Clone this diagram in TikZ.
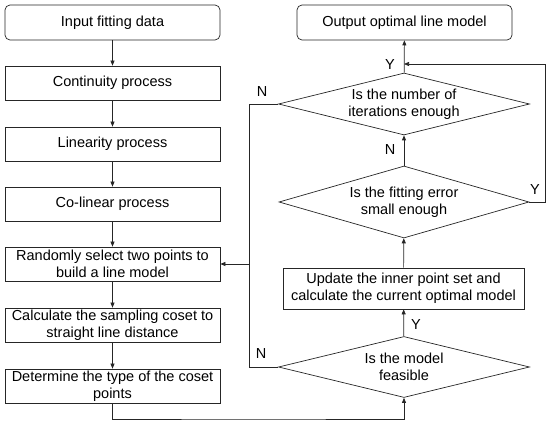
\documentclass[tikz,border=0pt]{standalone}
\usepackage{fontspec}
\setmainfont{Liberation Sans}
\usetikzlibrary{shapes.geometric,arrows.meta}

\tikzset{
  txt/.style={font=\fontsize{14.5}{17}\selectfont},
  procbox/.style={txt, draw, align=center, inner sep=1pt, minimum width=215pt, minimum height=34pt},
  termbox/.style={procbox, rounded corners=5pt, minimum height=35pt},
  decide/.style={txt, draw, diamond, align=center, inner sep=0pt, aspect=4},
  flow/.style={->, line width=0.7pt, black!85}
}

\begin{document}
\begin{tikzpicture}[x=1pt, y=-1pt, line width=0.7pt, draw=black!85, >={Triangle[length=5pt,width=4pt]}]
    \useasboundingbox (0,0) rectangle (550,425);
    % left column
    \node[termbox] (input) at (112.5,22.5) {Input fitting data};
    \node[procbox] (cont) at (112.5,83) {Continuity process};
    \node[procbox] (lin) at (112.5,144) {Linearity process};
    \node[procbox] (colin) at (112.5,204) {Co-linear process};
    \node[procbox] (rand) at (112.5,264) {Randomly select two points to\\build a line model};
    \node[procbox] (calc) at (112.5,325) {Calculate the sampling coset to\\straight line distance};
    \node[procbox] (det) at (112.5,386) {Determine the type of the coset\\points};
    % right column
    \node[termbox] (output) at (404.5,22.5) {Output optimal line model};
    \node[decide, minimum width=251pt, minimum height=62pt] (iter) at (404,104) {Is the number of\\iterations enough};
    \node[decide, aspect=3.5, minimum width=250pt, minimum height=72pt] (fiterr) at (404,202) {Is the fitting error\\small enough};
    \node[procbox, minimum width=241pt, minimum height=41pt] (update) at (403.5,288.5) {Update the inner point set and\\calculate the current optimal model};
    \node[decide, minimum width=251pt, minimum height=61pt] (feas) at (404,367) {Is the model\\feasible};
    % helper points
    \coordinate (nbus) at (249,264);
    \coordinate (low) at (249,419);
    \coordinate (join) at (404,64);
    % main chain
    \draw[flow] (input) -- (cont);
    \draw[flow] (cont) -- (lin);
    \draw[flow] (lin) -- (colin);
    \draw[flow] (colin) -- (rand);
    \draw[flow] (rand) -- (calc);
    \draw[flow] (calc) -- (det);
    \draw[flow] (det.south) |- (low) -| (feas.south);
    \draw[flow] (feas) -- (update);
    \draw[flow] (update) -- (fiterr);
    \draw[flow] (fiterr) -- (iter);
    \draw[flow] (iter) -- (output);
    % back loops
    \draw[flow] (fiterr.east) -- ++(16,0) |- (join);
    \draw[line width=0.7pt, black!85] (iter.west) -| (nbus);
    \draw[line width=0.7pt, black!85] (feas.west) -| (nbus);
    \draw[flow] (nbus) -- (rand.east);
    % branch labels
    \node[txt] (yout) at (390,65) {Y};
    \node[txt] (nit) at (390,150) {N};
    \node[txt] (yfit) at (535,190) {Y};
    \node[txt] (yfeas) at (416,325) {Y};
    \node[txt] (nup) at (262,92) {N};
    \node[txt] (ndown) at (261,354) {N};
\end{tikzpicture}
\end{document}
